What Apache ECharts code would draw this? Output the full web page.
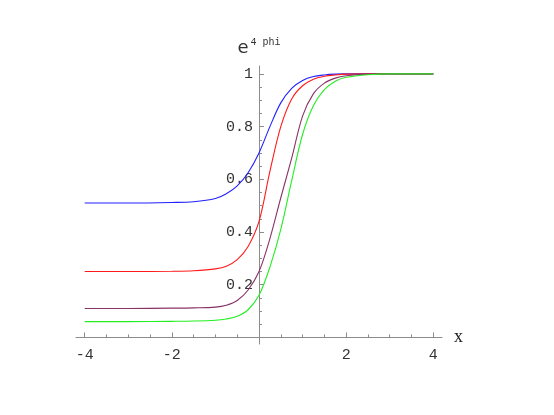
<!DOCTYPE html>
<html>
<head>
<meta charset="utf-8">
<script src="https://cdn.jsdelivr.net/npm/echarts@6/dist/echarts.min.js"></script>
<style>
  html, body { margin: 0; padding: 0; background: #fff; }
  #chart1 { width: 554px; height: 415px; }
</style>
</head>
<body>
<div id="chart1"></div>
<script>
// x samples
const Data_X = [-4, -3, -2, -1.5, -1, -0.75, -0.5, -0.25, 0, 0.25, 0.5, 0.75, 1, 1.25, 1.5, 1.75, 2, 2.5, 3, 4];
const Data_Blue = [0.51, 0.51, 0.512, 0.515, 0.527, 0.545, 0.575, 0.625, 0.70, 0.80, 0.89, 0.945, 0.975, 0.99, 0.996, 0.999, 1, 1, 1, 1];
const Data_Red = [0.25, 0.25, 0.251, 0.253, 0.26, 0.27, 0.295, 0.345, 0.44, 0.63, 0.80, 0.905, 0.955, 0.98, 0.991, 0.996, 0.999, 1, 1, 1];
const Data_Purple = [0.11, 0.11, 0.111, 0.112, 0.115, 0.122, 0.14, 0.18, 0.25, 0.375, 0.53, 0.68, 0.84, 0.925, 0.965, 0.984, 0.993, 0.999, 1, 1];
const Data_Green = [0.06, 0.06, 0.061, 0.062, 0.065, 0.07, 0.08, 0.105, 0.16, 0.267, 0.41, 0.595, 0.77, 0.88, 0.94, 0.972, 0.987, 0.997, 1, 1];

const X_Major = [-4, -2, 2, 4];
const X_Minor = [-4, -3.5, -3, -2.5, -2, -1.5, -1, -0.5, 0.5, 1, 1.5, 2, 2.5, 3, 3.5, 4];
const Y_Major = [0.2, 0.4, 0.6, 0.8, 1];
const Y_Minor = [0.05, 0.1, 0.15, 0.2, 0.25, 0.3, 0.35, 0.4, 0.45, 0.5, 0.55, 0.6, 0.65, 0.7, 0.75, 0.8, 0.85, 0.9, 0.95, 1];

function pairs(vals) {
  return Data_X.map((x, i) => [x, vals[i]]);
}

function renderChart1() {
  const dom = document.getElementById("chart1");
  const chart = echarts.init(dom);
  const labelFont = {
    fontFamily: 'Liberation Mono',
    fontSize: 15,
    color: '#333',
  };
  const axisColor = '#8c8c8c';
  // y labels stay at the grid edge, so pull them over to the x = 0 axis line
  const yLabelShift = -(4.2 / 8.4) * (554 - 76 - 112) + 6;
  const option = {
    animation: false,
    backgroundColor: '#fff',
    grid: {
      left: 76,
      right: 112,
      top: 66,
      bottom: 71,
      containLabel: false,
    },
    xAxis: [
      {
        type: 'value',
        min: -4.2,
        max: 4.2,
        position: 'bottom',
        axisLine: { onZero: true, onZeroAxisIndex: 0, lineStyle: { color: axisColor, width: 1 } },
        axisTick: { inside: true, length: 5, customValues: X_Major, lineStyle: { color: axisColor } },
        axisLabel: Object.assign({ customValues: X_Major, margin: 4 }, labelFont),
        splitLine: { show: false },
        name: 'x',
        nameLocation: 'end',
        nameGap: 12,
        nameTextStyle: { fontFamily: 'Liberation Serif', fontSize: 18, color: '#222' },
      },
      {
        type: 'value',
        min: -4.2,
        max: 4.2,
        position: 'bottom',
        axisLine: { show: false, onZero: true, onZeroAxisIndex: 0 },
        axisTick: { inside: true, length: 3, customValues: X_Minor, lineStyle: { color: axisColor } },
        axisLabel: { show: false },
        splitLine: { show: false },
      }
    ],
    yAxis: [
      {
        type: 'value',
        min: -0.025,
        max: 1.03,
        position: 'left',
        axisLine: { onZero: true, onZeroAxisIndex: 0, lineStyle: { color: axisColor, width: 1 } },
        axisTick: { inside: true, length: 5, customValues: Y_Major, lineStyle: { color: axisColor } },
        axisLabel: Object.assign({
          customValues: Y_Major,
          margin: yLabelShift,
          align: 'right',
          formatter: v => (v === 1 ? '1' : v.toFixed(1)),
        }, labelFont),
        splitLine: { show: false },
        name: '{e|e}{s|4 phi}',
        nameLocation: 'end',
        nameGap: 7,
        nameTextStyle: {
          rich: {
            e: { fontFamily: 'DejaVu Sans', fontSize: 18, color: '#333', lineHeight: 22 },
            s: { fontFamily: 'Liberation Mono', fontSize: 10, color: '#333', verticalAlign: 'top', padding: [0, 0, 10, 2] },
          },
        },
      },
      {
        type: 'value',
        min: -0.025,
        max: 1.03,
        position: 'left',
        axisLine: { show: false, onZero: true, onZeroAxisIndex: 0 },
        axisTick: { inside: true, length: 3, customValues: Y_Minor, lineStyle: { color: axisColor } },
        axisLabel: { show: false },
        splitLine: { show: false },
      }
    ],
    series: [
      { name: 'blue', type: 'line', data: pairs(Data_Blue), color: '#2020ff' },
      { name: 'red', type: 'line', data: pairs(Data_Red), color: '#ff1a1a' },
      { name: 'purple', type: 'line', data: pairs(Data_Purple), color: '#883366' },
      { name: 'green', type: 'line', data: pairs(Data_Green), color: '#22ee22' },
    ].map(s => Object.assign(s, {
      xAxisIndex: 0,
      yAxisIndex: 0,
      smooth: 0.35,
      showSymbol: false,
      symbol: 'none',
      lineStyle: { width: 1.1 },
      z: 3,
    })),
  };
  chart.setOption(option, true);
}
renderChart1();
</script>
</body>
</html>
